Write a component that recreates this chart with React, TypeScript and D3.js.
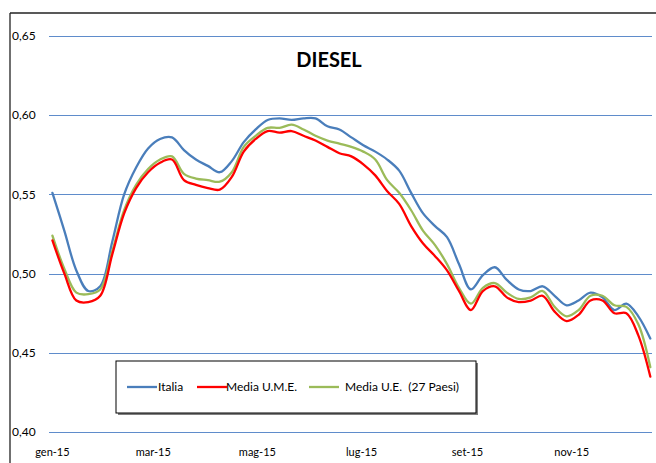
import React from "react";
import * as d3 from "d3";

const W = 656;
const H = 463;

// Weekly observations (first week of January 2015 onward)
const startDate = new Date(2015, 0, 1);
const italia = [
  0.551, 0.527, 0.502, 0.489, 0.492, 0.520, 0.550, 0.567, 0.579, 0.585,
  0.586, 0.578, 0.572, 0.568, 0.564, 0.571, 0.583, 0.591, 0.597, 0.598,
  0.597, 0.598, 0.598, 0.593, 0.591, 0.586, 0.581, 0.577, 0.572, 0.565,
  0.551, 0.538, 0.530, 0.523, 0.506, 0.490, 0.499, 0.504, 0.496, 0.490,
  0.489, 0.492, 0.486, 0.480, 0.483, 0.488, 0.485, 0.477, 0.481, 0.473,
  0.459,
];
const mediaUME = [
  0.521, 0.500, 0.483, 0.482, 0.486, 0.512, 0.538, 0.554, 0.564, 0.570,
  0.572, 0.559, 0.556, 0.554, 0.553, 0.561, 0.577, 0.585, 0.590, 0.589,
  0.590, 0.587, 0.584, 0.580, 0.576, 0.574, 0.569, 0.562, 0.552, 0.544,
  0.530, 0.519, 0.511, 0.502, 0.489, 0.477, 0.489, 0.492, 0.485, 0.482,
  0.483, 0.486, 0.476, 0.470, 0.474, 0.483, 0.483, 0.475, 0.475, 0.461,
  0.435,
];
const mediaUE27 = [
  0.524, 0.503, 0.488, 0.487, 0.490, 0.514, 0.540, 0.556, 0.566, 0.572,
  0.574, 0.563, 0.560, 0.559, 0.558, 0.564, 0.580, 0.587, 0.592, 0.592,
  0.594, 0.591, 0.587, 0.584, 0.582, 0.580, 0.577, 0.572, 0.559, 0.551,
  0.540, 0.527, 0.518, 0.506, 0.491, 0.481, 0.491, 0.494, 0.488, 0.484,
  0.485, 0.489, 0.479, 0.473, 0.477, 0.486, 0.486, 0.480, 0.479, 0.468,
  0.441,
];

const yTicks = [0.4, 0.45, 0.5, 0.55, 0.6, 0.65];
const xTickMonths = [0, 2, 4, 6, 8, 10];
const xTickLabels = ["gen-15", "mar-15", "mag-15", "lug-15", "set-15", "nov-15"];

const seriesNames = ["Italia", "Media U.M.E.", "Media U.E.  (27 Paesi)"];
const seriesColors = ["#4a7ebb", "#ff0000", "#9bbb59"];

const FONT = "Lato, 'Open Sans', Arial, sans-serif";

export default function App() {
  const dates = italia.map((_, i) => d3.timeDay.offset(startDate, i * 7));
  const x = d3
    .scaleTime()
    .domain([new Date(2014, 11, 30), new Date(2015, 11, 18)])
    .range([49, 652]);
  const y = d3.scaleLinear().domain([0.4, 0.65]).range([432, 36]);

  const line = d3
    .line<number>()
    .x((_, i) => x(dates[i]))
    .y((v) => y(v))
    .curve(d3.curveCatmullRom.alpha(0.5));

  const series = [italia, mediaUME, mediaUE27];
  const drawOrder = [0, 2, 1];

  const fmt = (v: number) => v.toFixed(2).replace(".", ",");

  // legend layout
  const legX = 116;
  const legY = 361;
  const legW = 360;
  const legH = 52;
  const legItems = [
    { lx: 127, tx: 158 },
    { lx: 197, tx: 226 },
    { lx: 309, tx: 345 },
  ];

  return (
    <svg
      width={W}
      height={H}
      style={{ position: "absolute", left: 0, top: 0, background: "#fff" }}
      fontFamily={FONT}
    >
      <rect x={0} y={0} width={W} height={H} fill="#fff" />
      {/* outer frame */}
      <line x1={10} y1={13} x2={W} y2={13} stroke="#222" strokeWidth={1.3} />
      <line x1={10} y1={13} x2={10} y2={H} stroke="#222" strokeWidth={1.3} />

      {/* gridlines */}
      {yTicks.map((t) => (
        <g key={t}>
          <line
            x1={49}
            x2={652}
            y1={Math.round(y(t)) + 0.5}
            y2={Math.round(y(t)) + 0.5}
            stroke="#5f8ccb"
            strokeWidth={1.2}
          />
          <text x={12} y={y(t)} dy="0.35em" fontSize={12} fill="#000">
            {fmt(t)}
          </text>
        </g>
      ))}

      {/* x labels */}
      {xTickMonths.map((m, i) => (
        <text
          key={m}
          x={x(new Date(2015, m, 1))}
          y={456}
          fontSize={11}
          textAnchor="middle"
          fill="#000"
        >
          {xTickLabels[i]}
        </text>
      ))}

      {/* series */}
      {drawOrder.map((si) => (
        <path
          key={si}
          d={line(series[si]) || ""}
          fill="none"
          stroke={seriesColors[si]}
          strokeWidth={2.3}
          strokeLinejoin="round"
          strokeLinecap="round"
        />
      ))}

      {/* title */}
      <text
        x={329}
        y={67}
        fontSize={20}
        fontWeight="bold"
        textAnchor="middle"
        fill="#000"
      >
        DIESEL
      </text>

      {/* legend */}
      <rect x={legX + 2} y={legY + 2} width={legW} height={legH} fill="#7f7f7f" />
      <rect
        x={legX}
        y={legY}
        width={legW}
        height={legH}
        fill="#fff"
        stroke="#000"
        strokeWidth={1}
      />
      {seriesNames.map((n, i) => (
        <g key={n}>
          <line
            x1={legItems[i].lx}
            x2={legItems[i].lx + 30}
            y1={387}
            y2={387}
            stroke={seriesColors[i]}
            strokeWidth={2.3}
          />
          <text
            x={legItems[i].tx}
            y={387}
            dy="0.35em"
            fontSize={12}
            fill="#000"
            style={{ whiteSpace: "pre" }}
          >
            {n}
          </text>
        </g>
      ))}
    </svg>
  );
}
